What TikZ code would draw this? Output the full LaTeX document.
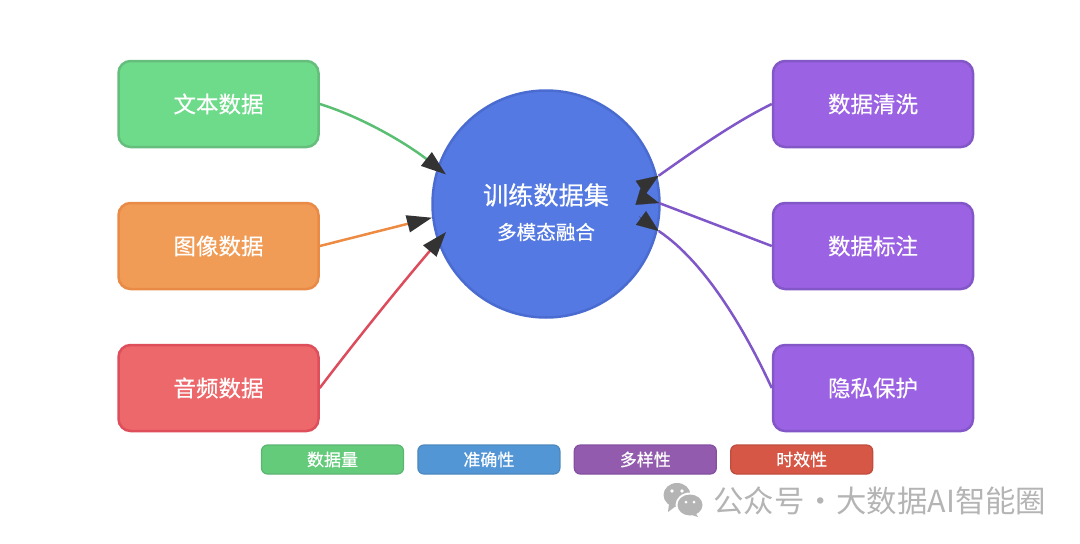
\documentclass[tikz,border=0pt]{standalone}
\usepackage{fontspec}
\setmainfont{Noto Sans CJK SC}[FakeBold=0.4]
\newfontfamily\markfont{Noto Sans CJK SC}
\usepackage{xcolor}
\usetikzlibrary{arrows.meta,positioning,calc}
\definecolor{hubfill}{HTML}{5479E3}
\definecolor{hubline}{HTML}{4A6BD0}
\definecolor{headcol}{HTML}{333333}
\definecolor{markgray}{HTML}{B4B4B4}

\begin{document}
\begin{tikzpicture}[
        x=1pt, y=-1pt,
        node distance=53.5pt,
        box/.style={draw, rectangle, rounded corners=12pt, minimum width=200pt, minimum height=86pt, line width=2.5pt, text=white, font=\fontsize{22.5}{27}\selectfont, inner sep=0pt},
        tag/.style={draw, rectangle, rounded corners=6pt, minimum width=142pt, minimum height=29pt, line width=1.2pt, text=white, font=\fontsize{17}{20}\selectfont, inner sep=0pt},
        link/.style={line width=2.5pt},
        arrow/.style={link, -{Triangle[length=25pt, width=17pt, color=headcol]}},
        head/.style={draw=headcol, line width=0.2pt, -{Triangle[length=22pt, width=17pt, color=headcol]}}
    ]
        \useasboundingbox (0,0) rectangle (1080,544);

        \node[box, fill={rgb,255:red,110;green,219;blue,139}, draw={rgb,255:red,102;green,190;blue,124}] (texto) at (218.5,104) {文本数据};
        \node[box, fill={rgb,255:red,240;green,156;blue,86}, draw={rgb,255:red,233;green,138;blue,71}, below=of texto] (imagem) {图像数据};
        \node[box, fill={rgb,255:red,236;green,104;blue,107}, draw={rgb,255:red,222;green,79;blue,91}, below=of imagem] (audio) {音频数据};

        \node[box, fill={rgb,255:red,155;green,98;blue,227}, draw={rgb,255:red,131;green,87;blue,199}] (limpeza) at (873,104) {数据清洗};
        \node[box, fill={rgb,255:red,155;green,98;blue,227}, draw={rgb,255:red,131;green,87;blue,199}, below=of limpeza] (rotulo) {数据标注};
        \node[box, fill={rgb,255:red,155;green,98;blue,227}, draw={rgb,255:red,131;green,87;blue,199}, below=of rotulo] (privado) {隐私保护};

        \node[draw=hubline, fill=hubfill, circle, minimum size=227pt, line width=2.5pt, inner sep=0pt] (hub) at (546,204) {};
        \node[text=white, font=\fontsize{25.2}{30}\selectfont, inner sep=0pt] (titulo) at (546,195) {训练数据集};
        \node[text=white, font=\fontsize{19.6}{24}\selectfont, inner sep=0pt] (subtitulo) at (546,232) {多模态融合};

        \coordinate (c1) at (446,174.5);
        \coordinate (c2) at (432,217.7);
        \coordinate (c3) at (446,232);
        \coordinate (d1) at (658.7,175.7);
        \coordinate (d2) at (659,203);
        \coordinate (d3) at (658.7,231);
        \coordinate (e1) at (641,187.5);
        \coordinate (e2) at (639,197);
        \coordinate (e3) at (639,216.5);

        \draw[arrow, draw={rgb,255:red,91;green,191;blue,115}] (texto.east) .. controls (365,118) and (410,146) .. (c1);
        \draw[arrow, draw={rgb,255:red,238;green,139;blue,67}] (imagem.east) -- (c2);
        \draw[arrow, draw={rgb,255:red,220;green,76;blue,92}] (audio.east) .. controls (360,335) and (405,280) .. (c3);

        \draw[link, draw={rgb,255:red,127;green,87;blue,200}] (limpeza.west) .. controls (735,122) and (695,150) .. (d1);
        \draw[link, draw={rgb,255:red,127;green,87;blue,200}] (rotulo.west) -- (d2);
        \draw[link, draw={rgb,255:red,127;green,87;blue,200}] (privado.west) .. controls (745,330) and (705,262) .. (d3);

        % pontas voltadas para fora
        \draw[head] (e1) -- (d1);
        \draw[head] (e2) -- (d2);
        \draw[head] (e3) -- (d3);

        \node[tag, fill={rgb,255:red,100;green,203;blue,123}, draw={rgb,255:red,92;green,181;blue,114}] (volume) at (332.5,459.5) {数据量};
        \node[tag, fill={rgb,255:red,82;green,150;blue,214}, draw={rgb,255:red,76;green,136;blue,190}, right=13.2pt of volume] (precisao) {准确性};
        \node[tag, fill={rgb,255:red,146;green,91;blue,174}, draw={rgb,255:red,132;green,80;blue,160}, right=13.2pt of precisao] (variedade) {多样性};
        \node[tag, fill={rgb,255:red,214;green,87;blue,69}, draw={rgb,255:red,192;green,77;blue,61}, right=13.2pt of variedade] (tempo) {时效性};

        % icone
        \fill[markgray] (677,495) ellipse (13.5 and 12);
        \fill[markgray] (669,504) -- (668,512) -- (676,506) -- cycle;
        \fill[white] (690,505) ellipse (14.5 and 12.5);
        \fill[markgray] (690,505) ellipse (12.5 and 10.5);
        \fill[markgray] (695,512) -- (698,517) -- (689,514) -- cycle;
        \fill[white] (672,491) circle (1.8) (682,491) circle (1.8);
        \fill[white] (686,502) circle (1.5) (694,502) circle (1.5);

        \node[text=markgray, font=\markfont\fontsize{30.4}{34}\selectfont, inner sep=0pt, anchor=west] (marca) at (713,501) {公众号\hspace{-6pt} · \hspace{-6pt}大数据AI智能圈};
    \end{tikzpicture}
\end{document}
